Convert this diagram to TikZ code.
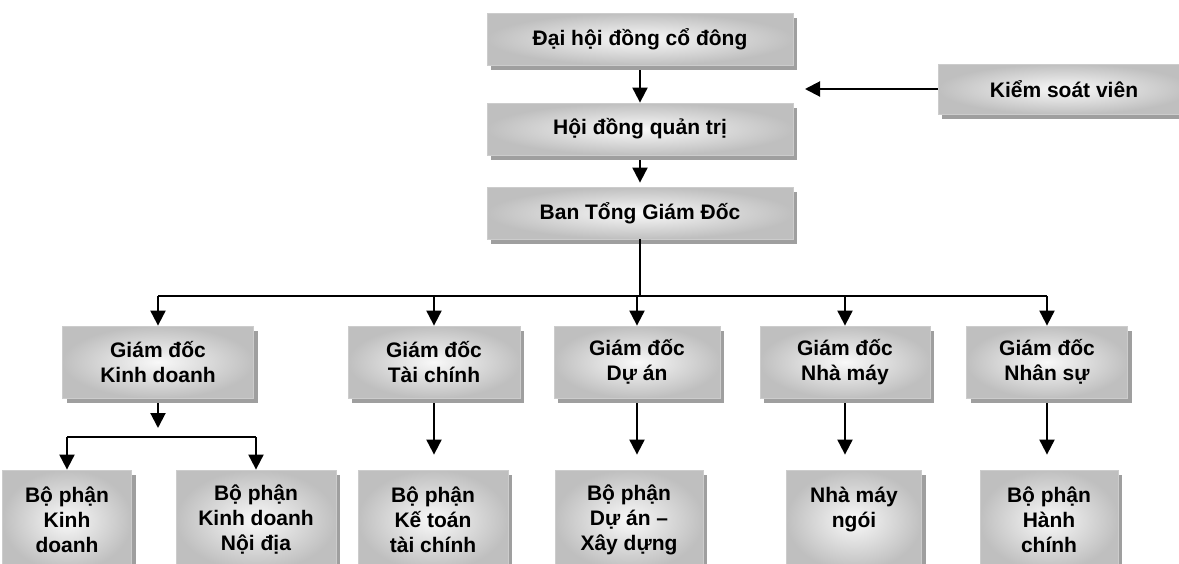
\documentclass[tikz,border=0pt]{standalone}
\usepackage{fontspec}
\setmainfont{Liberation Sans}
\usetikzlibrary{arrows.meta,shadows}

\tikzset{
  orgbox/.style={draw=gray!40,line width=0.8pt,inner color=gray!5,outer color=gray!50,
    drop shadow={shadow xshift=4pt,shadow yshift=-5pt,fill=gray!75,opacity=1},
    font=\bfseries\fontsize{21}{25}\selectfont,align=center,inner sep=0pt},
  link/.style={line width=2pt},
  conn/.style={link,-{Triangle[width=15pt,length=15pt]}}
}

\begin{document}
\begin{tikzpicture}[x=1pt,y=-1pt]
  \useasboundingbox (0,0) rectangle (1179,563);
  % board level
  \node[orgbox,minimum width=306pt,minimum height=52pt] (dhdcd) at (640,39){Đại hội đồng cổ đông};
  \node[orgbox,minimum width=306pt,minimum height=52pt] (hdqt) at (640,129){Hội đồng quản trị};
  \node[orgbox,minimum width=306pt,minimum height=52pt] (btgd) at (640,213){Ban Tổng Giám Đốc};
  \node[orgbox,minimum width=252pt,minimum height=50pt] (ksv) at (1064,89){Kiểm soát viên};
  \coordinate (ksvtip) at (805,89);
  \draw[conn,shorten <=5pt] (dhdcd.south) -- (hdqt.north);
  \draw[conn,shorten <=5pt,shorten >=4pt] (hdqt.south) -- (btgd.north);
  \draw[conn] (ksv.west) -- (ksvtip);

  % directors
  \node[orgbox,minimum width=191pt,minimum height=72pt] (gdkd) at (158,362){Giám đốc\\Kinh doanh};
  \node[orgbox,minimum width=172pt,minimum height=72pt] (gdtc) at (434,362){Giám đốc\\Tài chính};
  \node[orgbox,minimum width=166pt,minimum height=72pt] (gdda) at (637,362){Giám đốc\\Dự án};
  \node[orgbox,minimum width=170pt,minimum height=72pt] (gdnm) at (845,362){Giám đốc\\Nhà máy};
  \node[orgbox,minimum width=161pt,minimum height=72pt] (gdns) at (1047,362){Giám đốc\\Nhân sự};
  \coordinate (bus) at (640,296);
  \draw[link] (btgd.south) -- (bus);
  \draw[link] (gdkd.north |- bus) -- (gdns.north |- bus);
  \foreach \n in {gdkd,gdtc,gdda,gdnm,gdns}
    \draw[conn] (\n.north |- bus) -- (\n.north);

  % departments
  \node[orgbox,minimum width=129pt,minimum height=100pt] (bpkd) at (67,520){Bộ phận\\Kinh\\doanh};
  \node[orgbox,minimum width=160pt,minimum height=100pt] (bpnd) at (256,520){Bộ phận\\Kinh doanh\\Nội địa};
  \node[orgbox,minimum width=150pt,minimum height=100pt] (bpkt) at (433,520){Bộ phận\\Kế toán\\tài chính};
  \node[orgbox,minimum width=148pt,minimum height=100pt] (bpda) at (629,520){Bộ phận\\Dự án –\\Xây dựng};
  \node[orgbox,minimum width=135pt,minimum height=100pt] (nmng) at (854,520){Nhà máy\\ngói\\\mbox{}};
  \node[orgbox,minimum width=138pt,minimum height=100pt] (bphc) at (1049,520){Bộ phận\\Hành\\chính};
  \foreach \a/\b in {gdtc/bpkt,gdda/bpda,gdnm/nmng,gdns/bphc}
    \draw[conn,shorten <=5pt,shorten >=15pt] (\a.south) -- (\a.south |- \b.north);
  \coordinate (kdbus) at (158,437);
  \draw[conn,shorten <=5pt,shorten >=9pt] (gdkd.south) -- (kdbus);
  \draw[link] (bpkd.north |- kdbus) -- (bpnd.north |- kdbus);
  \foreach \n in {bpkd,bpnd}
    \draw[conn] (\n.north |- kdbus) -- (\n.north);
\end{tikzpicture}
\end{document}
